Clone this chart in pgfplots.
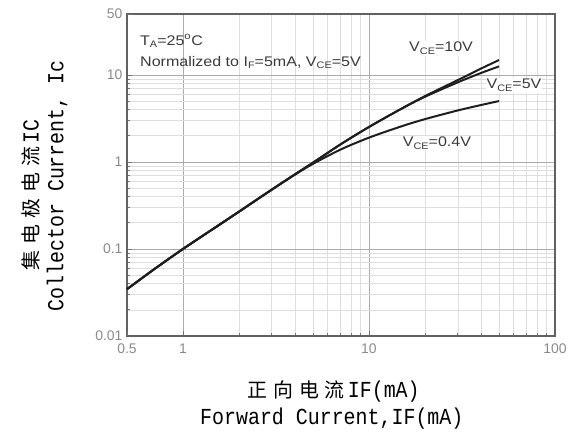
\documentclass[border=0pt]{standalone}
\usepackage{fontspec}
\usepackage{graphicx}
\setmainfont{Liberation Sans}
\newfontfamily\cjk{Noto Sans CJK SC}
\newfontfamily\monof{Liberation Mono}
\usepackage{pgfplots}
\pgfplotsset{compat=1.18}
\pgfdeclarelayer{whitebox}
\pgfplotsset{layers/mylayers/.define layer set={axis background,axis grid,whitebox,axis ticks,axis lines,axis tick labels,main,axis descriptions,axis foreground}{}}
\definecolor{tickgray}{HTML}{8A8A8A}
\definecolor{txt}{HTML}{3A3A3A}
\definecolor{curve}{HTML}{1E1E1E}
\newcommand{\sub}[1]{\raisebox{-0.4ex}{\fontsize{9.5}{10}\selectfont #1}}
\newcommand{\ann}[1]{\scalebox{1.15}[1]{\fontsize{14}{16}\selectfont #1}}
\newcommand{\lat}[1]{\scalebox{0.87}[1]{\monof\fontsize{23}{26}\selectfont #1}}
\newcommand{\zh}[1]{{\cjk\fontsize{20}{24}\selectfont #1}}
\newcommand{\zs}{\hspace{6bp}}

\begin{document}
\begin{tikzpicture}
\begin{axis}[
  set layers=mylayers,
  at={(0,0)}, anchor=south west,
  scale only axis,
  width=428bp, height=322bp,
  xmode=log, ymode=log,
  xmin=0.5, xmax=100, ymin=0.01, ymax=50,
  xtick={1,10,100}, xticklabels={1,10,100},
  ytick={0.01,0.1,1,10}, yticklabels={0.01,0.1,1,10},
  extra x ticks={0.5}, extra x tick labels={0.5},
  extra y ticks={50}, extra y tick labels={50},
  extra tick style={grid=none},
  grid=both,
  major grid style={draw=black!33, line width=0.6pt},
  minor grid style={draw=black!13, line width=0.5pt},
  tick pos=left,
  tick align=inside,
  major tick length=5bp, minor tick length=3bp,
  every tick/.style={draw=black!55, line width=0.6pt},
  axis line style={draw=black!62, line width=1.3pt},
  tick label style={font=\fontsize{14}{16}\selectfont, text=tickgray},
  /pgf/number format/assume math mode=true,
  xticklabel style={yshift=-4bp},
  yticklabel style={xshift=-1bp},
  clip=false,
]
\addplot[fill=white, draw=none, on layer=whitebox] coordinates {(0.5,8.8) (9.8,8.8) (9.8,50) (0.5,50)};

% V_CE = 5V
\addplot[curve, line width=2pt, smooth] coordinates {
(0.5,0.0345) (0.7,0.0585) (1,0.1) (1.5,0.178) (2,0.268) (3,0.48) (4,0.72) (5,0.98)
(7,1.58) (10,2.52) (15,4.1) (20,5.6) (30,8.2) (40,10.5) (50,12.5)};
% V_CE = 10V
\addplot[curve, line width=2pt, smooth] coordinates {
(0.5,0.0345) (0.7,0.0585) (1,0.1) (1.5,0.178) (2,0.268) (3,0.48) (4,0.72) (5,0.98)
(7,1.58) (10,2.52) (15,4.1) (20,5.7) (30,8.7) (40,11.8) (50,14.8)};
% V_CE = 0.4V
\addplot[curve, line width=2pt, smooth] coordinates {
(0.5,0.0345) (0.7,0.0585) (1,0.1) (1.5,0.178) (2,0.268) (3,0.48) (4,0.715) (5,0.95)
(7,1.38) (10,1.9) (15,2.57) (20,3.1) (30,3.9) (40,4.5) (50,5.0)};

\node[anchor=base west, text=txt, inner sep=0pt]
  at ([xshift=13bp,yshift=-31bp]rel axis cs:0,1) {\ann{T\sub{A}=25\textsuperscript{o}C}};
\node[anchor=base west, text=txt, inner sep=0pt]
  at ([xshift=13bp,yshift=-52bp]rel axis cs:0,1) {\ann{Normalized to I\sub{F}=5mA, V\sub{CE}=5V}};

\node[text=txt, fill=white, inner sep=1pt] at (axis cs:24.4,20.1) {\ann{V\sub{CE}=10V}};
\node[text=txt, fill=white, inner sep=1pt] at (axis cs:60.2,7.59) {\ann{V\sub{CE}=5V}};
\node[text=txt, fill=white, inner sep=1pt] at (axis cs:23.2,1.65) {\ann{V\sub{CE}=0.4V}};

% axis labels
\node[anchor=base west, inner sep=0pt] at ([xshift=120bp,yshift=-61bp]rel axis cs:0,0)
  {\zh{正\zs 向\zs 电\zs 流}\hspace{3bp}\lat{IF(mA)}};
\node[anchor=base west, inner sep=0pt] at ([xshift=73bp,yshift=-88bp]rel axis cs:0,0)
  {\lat{Forward Current,IF(mA)}};
\node[rotate=90, inner sep=0pt] at ([xshift=-96bp]rel axis cs:0,0.438)
  {\zh{集\zs 电\zs 极\zs 电\zs 流}\hspace{3bp}\lat{IC}};
\node[rotate=90, inner sep=0pt] at ([xshift=-70bp]rel axis cs:0,0.466)
  {\lat{Collector Current, Ic}};
\end{axis}
\path (-127bp,-98bp) rectangle (447bp,336bp);
\end{tikzpicture}
\end{document}
